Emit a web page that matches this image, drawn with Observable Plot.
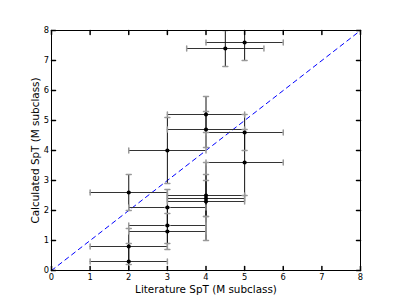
<!DOCTYPE html>
<html>
<head>
<meta charset="utf-8">
<script src="https://cdn.jsdelivr.net/npm/d3@7"></script>
<script src="https://cdn.jsdelivr.net/npm/@observablehq/plot@0.6"></script>
<style>
  html, body { margin: 0; padding: 0; background: white; }
</style>
</head>
<body>
<div id="chart"></div>
<script>
// Literature SpT (x) vs calculated SpT (y), M subclass
const litSpT  = [4.5, 5,   4,   4,   5,   5,   3,   2,   3,   4,   4,   4,   3,   3,   2,   2];
const calcSpT = [7.4, 7.6, 5.2, 4.7, 4.6, 3.6, 4.0, 2.6, 2.1, 2.5, 2.4, 2.3, 1.5, 1.3, 0.8, 0.3];
const litErr  = [1,   1,   1,   1,   1,   1,   1,   1,   1,   1,   1,   1,   1,   1,   1,   1];
const calcErr = [0.6, 0.6, 0.6, 0.6, 0.6, 1.1, 1.1, 0.6, 0.6, 0.7, 0.6, 1.3, 0.6, 0.6, 0.6, 0.6];
const xTicks = [0, 1, 2, 3, 4, 5, 6, 7, 8];
const yTicks = [0, 1, 2, 3, 4, 5, 6, 7, 8];
const oneToOne = [0, 8];
const xLabel = "Literature SpT (M subclass)";
const yLabel = "Calculated SpT (M subclass)";

const data = litSpT.map((x, i) => ({x, y: calcSpT[i], xe: litErr[i], ye: calcErr[i]}));
const xCaps = data.flatMap(d => [{x: d.x - d.xe, y: d.y}, {x: d.x + d.xe, y: d.y}]);
const yCaps = data.flatMap(d => [{x: d.x, y: d.y - d.ye}, {x: d.x, y: d.y + d.ye}]);

const line = {draw(context, l) { context.moveTo(0, 0); context.lineTo(0, -l); }};
const font = "DejaVu Sans";

const chart = Plot.plot({
  width: 400,
  height: 300,
  marginLeft: 51,
  marginRight: 40,
  marginTop: 30,
  marginBottom: 30,
  x: {domain: [0, 8], axis: null},
  y: {domain: [0, 8], axis: null},
  style: {fontFamily: font, background: "white", color: "black"},
  marks: [
    // 1:1 line
    Plot.line(oneToOne, {x: d => d, y: d => d, stroke: "#0000ff", strokeWidth: 1, strokeDasharray: "4.5,4"}),
    // error bars
    Plot.ruleY(data, {y: "y", x1: d => d.x - d.xe, x2: d => d.x + d.xe, stroke: "#333", strokeWidth: 1, clip: true}),
    Plot.ruleX(data, {x: "x", y1: d => d.y - d.ye, y2: d => d.y + d.ye, stroke: "#111", strokeWidth: 1, clip: true}),
    Plot.vector(xCaps, {x: "x", y: "y", length: 5, rotate: 0, anchor: "middle", shape: line, stroke: "#999", clip: true}),
    Plot.vector(yCaps, {x: "x", y: "y", length: 5, rotate: 90, anchor: "middle", shape: line, stroke: "#999", clip: true}),
    // points
    Plot.dot(data, {x: "x", y: "y", r: 2.1, fill: "black", stroke: "none"}),
    // frame and inward ticks
    Plot.frame({stroke: "black", strokeWidth: 1}),
    Plot.vector(xTicks, {x: d => d, y: 0, length: 4, rotate: 0, anchor: "start", shape: line, stroke: "black"}),
    Plot.vector(xTicks, {x: d => d, y: 8, length: 4, rotate: 180, anchor: "start", shape: line, stroke: "black"}),
    Plot.vector(yTicks, {x: 0, y: d => d, length: 4, rotate: 90, anchor: "start", shape: line, stroke: "black"}),
    Plot.vector(yTicks, {x: 8, y: d => d, length: 4, rotate: -90, anchor: "start", shape: line, stroke: "black"}),
    // tick labels
    Plot.text(xTicks, {x: d => d, y: 0, text: d => String(d), dy: 6.5, lineAnchor: "middle", textAnchor: "middle", fontSize: 8.3, fill: "black"}),
    Plot.text(yTicks, {x: 0, y: d => d, text: d => String(d), dx: -2.5, lineAnchor: "middle", textAnchor: "end", fontSize: 8.3, fill: "black"}),
    // axis labels
    Plot.text([xLabel], {frameAnchor: "bottom", text: d => d, dy: 19, lineAnchor: "middle", textAnchor: "middle", fontSize: 10.4, fill: "black"}),
    Plot.text([yLabel], {frameAnchor: "left", text: d => d, dx: -16.3, rotate: -90, lineAnchor: "middle", textAnchor: "middle", fontSize: 10.4, fill: "black"})
  ]
});
document.getElementById("chart").appendChild(chart);
</script>
</body>
</html>
